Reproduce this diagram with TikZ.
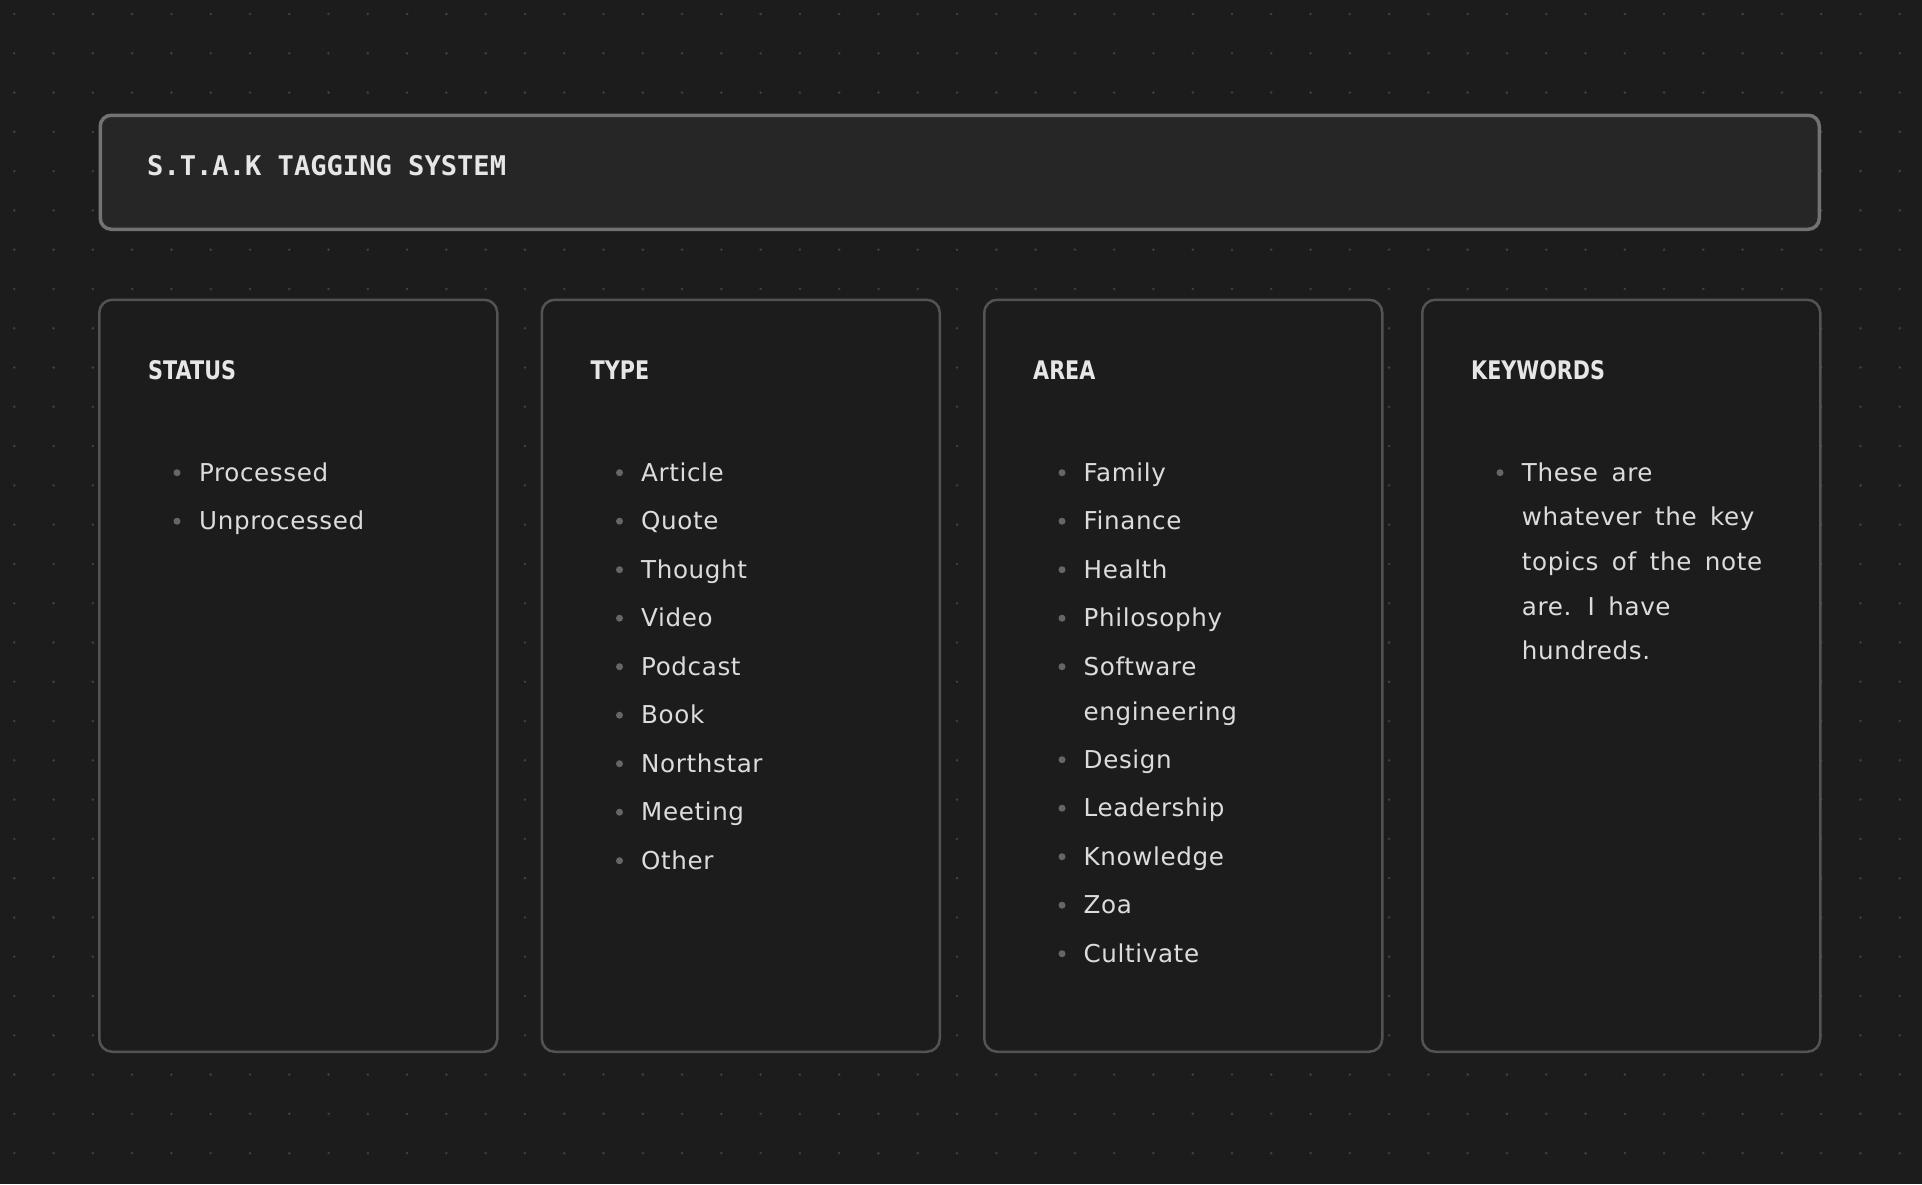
\documentclass[tikz,border=0pt]{standalone}
\usepackage{fontspec}
\setmainfont{DejaVu Sans}
\newfontfamily\bodyfont[LetterSpace=2.5,WordSpace=1.6]{DejaVu Sans}
\newfontfamily\headfont[FakeStretch=0.81]{DejaVu Sans}
\newfontfamily\titlefont{DejaVu Sans Mono}
\definecolor{bg}{HTML}{1C1C1C}
\definecolor{titlefill}{HTML}{262626}
\definecolor{titleline}{HTML}{727272}
\definecolor{cardline}{HTML}{535353}
\definecolor{dotc}{HTML}{404040}
\definecolor{headc}{HTML}{E6E6E6}
\definecolor{bodyc}{HTML}{DCDCDC}
\definecolor{bulletc}{HTML}{666666}
\begin{document}
\begin{tikzpicture}[x=1pt,y=-1pt,
  titlebox/.style={draw=titleline, line width=3.5pt, fill=titlefill, rounded corners=11pt,
    minimum width=1719pt, minimum height=114pt, anchor=north west, inner sep=0pt},
  card/.style={draw=cardline, line width=2.5pt, fill=bg, rounded corners=13pt,
    minimum width=398pt, minimum height=752pt, anchor=north west, inner sep=0pt},
  titletxt/.style={anchor=base west, inner sep=0pt, text=headc,
    font={\titlefont\bfseries\fontsize{27.1}{32}\selectfont}},
  headtxt/.style={anchor=base west, inner sep=0pt, text=headc,
    font={\headfont\bfseries\fontsize{25.6}{30}\selectfont}},
  itemtxt/.style={anchor=base west, inner sep=0pt, text=bodyc,
    font={\bodyfont\fontsize{24.6}{30}\selectfont}},
  bullet/.style={circle, fill=bulletc, inner sep=0pt, minimum size=7pt}]
\useasboundingbox (0,0) rectangle (1922,1184);
\fill[bg] (0,0) rectangle (1922,1184);
% dot grid
\foreach \i in {0,...,48}{
  \foreach \j in {0,...,29}{
    \fill[dotc] ({14.3+39.28*\i},{14+39.28*\j}) circle (1.4pt);
  }
}
% title
\node[titlebox] (title) at (98.5,113.5) {};
\node[titletxt] (titletext) at (147,175) {S.T.A.K TAGGING SYSTEM};
% cards
\node[card] (c1) at (98,298.5) {};
\node[card] (c2) at (540.5,298.5) {};
\node[card] (c3) at (983,298.5) {};
\node[card] (c4) at (1421,298.5) {};
% headings
\node[headtxt] (h1) at (148,379.3) {STATUS};
\node[headtxt] (h2) at (590.5,379.3) {TYPE};
\node[headtxt] (h3) at (1033,379.3) {AREA};
\node[headtxt] (h4) at (1471,379.3) {KEYWORDS};
% status
\foreach \t [count=\i] in {Processed,Unprocessed}{
  \node[bullet] (sb\i) at ({177},{472.7+48.5*(\i-1)}) {};
  \node[itemtxt] (st\i) at ({199},{481+48.5*(\i-1)}) {\t};
}
% type
\foreach \t [count=\i] in {Article,Quote,Thought,Video,Podcast,Book,Northstar,Meeting,Other}{
  \node[bullet] (tb\i) at ({619.5},{472.7+48.5*(\i-1)}) {};
  \node[itemtxt] (tt\i) at ({641},{481+48.5*(\i-1)}) {\t};
}
% area
\foreach \t/\y [count=\i] in {Family/481,Finance/529.5,Health/578,Philosophy/626.5,Software/675,Design/768,Leadership/816.5,Knowledge/865,Zoa/913.5,Cultivate/962}{
  \node[bullet] (ab\i) at ({1062},{\y-8.3}) {};
  \node[itemtxt] (at\i) at ({1083.5},{\y}) {\t};
}
\node[itemtxt] (at5b) at (1083.5,720) {engineering};
% keywords
\node[bullet] (kb1) at (1500,472.7) {};
\node[itemtxt] (kt1) at (1521.7,481) {These are};
\node[itemtxt] (kt2) at (1521.7,525.7) {whatever the key};
\node[itemtxt] (kt3) at (1521.7,570.3) {topics of the note};
\node[itemtxt] (kt4) at (1521.7,615) {are. I have};
\node[itemtxt] (kt5) at (1521.7,659.7) {hundreds.};
\end{tikzpicture}
\end{document}
